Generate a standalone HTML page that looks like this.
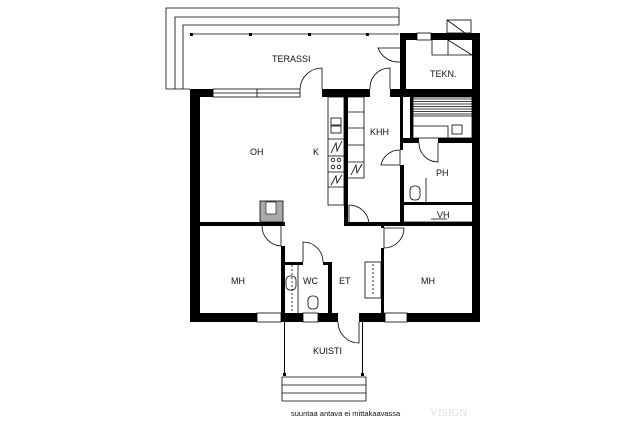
<!DOCTYPE html>
<html><head><meta charset="utf-8"><style>
html,body{margin:0;padding:0;background:#fff;width:640px;height:427px;overflow:hidden}
svg{display:block}
text{font-family:"Liberation Sans",sans-serif;font-size:9px;fill:#111}
</style></head><body>
<svg width="640" height="427" viewBox="0 0 640 427" xmlns="http://www.w3.org/2000/svg">
<g fill="none" stroke="#000" stroke-width="0.8">
<path d="M399 8 H166 V89 M399 17 H175 V89 M399 25 H183 V89 M399 8 V25"/>
<line x1="166" y1="89" x2="190" y2="89"/>
<line x1="190" y1="34" x2="399" y2="34"/>
<rect x="213" y="89" width="87" height="8"/>
<line x1="213" y1="93" x2="300" y2="93"/><line x1="257" y1="89" x2="257" y2="97"/>
<path d="M322 89 V68 A22 22 0 0 0 300 89"/>
<path d="M390 89 V68 A20 20 0 0 0 370 89"/>
<path d="M400 48 H378 A22 22 0 0 0 400 62"/>
<rect x="417" y="33" width="14" height="7"/>
<rect x="447" y="20" width="24" height="13"/><line x1="447" y1="20" x2="465" y2="33"/>
<path d="M432 40 V55 H472 M448 40 V55 M448 40 L472 55"/>
<rect x="413" y="97" width="59" height="41"/>
<path d="M413 99 H472 M413 101.5 H472 M413 104 H472 M413 106.5 H472 M413 109 H472 M413 111.5 H472 M413 114 H472 M413 116 H472 M413 126 H448 V138"/>
<rect x="452" y="125" width="10" height="9"/>
<path d="M348 97 H364 V178 H348 M348 112 H364 M348 128 H364 M348 145 H364 M348 162 H364"/>
<path d="M351 175 L356 165 L357 173 L362 164"/>
<rect x="328" y="97" width="16" height="108"/>
<rect x="331" y="118" width="10" height="7"/><rect x="331" y="126" width="10" height="7"/>
<path d="M328 139 H344 M328 156 H344 M328 172 H344 M328 187 H344"/>
<path d="M331 153 L336 143 L337 151 L342 141"/>
<path d="M331 185 L336 176 L337 183 L342 175"/>
<circle cx="333" cy="160" r="1.8"/><circle cx="339" cy="160" r="1.8"/><circle cx="333" cy="167" r="1.8"/><circle cx="339" cy="167" r="1.8"/>
<path d="M400 150 V165 H381 A19 19 0 0 1 400 150"/>
<path d="M349 205 V224 M349 205 A20 20 0 0 1 369 224"/>
<path d="M419 143 A19 19 0 0 0 438 162 V143"/>
<line x1="426" y1="178" x2="426" y2="203"/>
<rect x="410" y="186" width="10" height="14" rx="4"/>
<path d="M431 219 H447 M400 222 H472"/>
<path d="M262 226 A20 20 0 0 0 281 246 V226"/>
<path d="M303 262 V242 A20 20 0 0 1 323 262"/>
<line x1="298" y1="265" x2="298" y2="313"/>
<line x1="292" y1="265" x2="292" y2="313" stroke-dasharray="2 2"/>
<rect x="286" y="276" width="10" height="14" rx="4"/>
<rect x="308" y="296" width="10" height="13" rx="4"/>
<rect x="365" y="262" width="16" height="36"/><line x1="373" y1="264" x2="373" y2="296" stroke-dasharray="2 2"/>
<path d="M384 228 V248 A20 20 0 0 0 404 228 Z"/>
<rect x="257" y="313" width="24" height="9"/><rect x="303" y="313" width="15" height="9"/><rect x="385" y="313" width="22" height="9"/>
<path d="M359 322 V343 A21 21 0 0 1 338 322"/>
<path d="M284.5 322 V375 M362.5 322 V375" stroke-width="1"/>
<path d="M282 377 H366 M282 385 H366 M282 393 H366 M282 401 H366 M282 377 V401 M366 377 V401"/>
</g>
<g fill="#000">
<rect x="190" y="33" width="3" height="3"/><rect x="249" y="33" width="3" height="3"/><rect x="308" y="33" width="3" height="3"/><rect x="366" y="33" width="3" height="3"/>
<rect x="283" y="373" width="3" height="3"/><rect x="361" y="373" width="3" height="3"/>
</g>
<rect x="260" y="201" width="23" height="21" fill="#aaa" stroke="#000" stroke-width="0.8"/>
<rect x="266" y="202" width="10" height="12" fill="#fff" stroke="#000" stroke-width="0.6"/>
<g fill="#000">
<rect x="190" y="89" width="23" height="8"/>
<rect x="322" y="89" width="48" height="8"/><rect x="390" y="89" width="90" height="8"/>
<rect x="190" y="89" width="10" height="233"/>
<rect x="400" y="33" width="17" height="7"/><rect x="431" y="33" width="49" height="7"/>
<rect x="400" y="33" width="6" height="64"/>
<rect x="472" y="33" width="8" height="289"/>
<rect x="190" y="313" width="67" height="9"/><rect x="281" y="313" width="22" height="9"/>
<rect x="318" y="313" width="20" height="9"/><rect x="359" y="313" width="26" height="9"/><rect x="407" y="313" width="73" height="9"/>
<rect x="200" y="222" width="85" height="4"/>
<rect x="281" y="222" width="4" height="4"/><rect x="281" y="246" width="4" height="67"/>
<rect x="282" y="262" width="21" height="3"/><rect x="323" y="262" width="9" height="3"/>
<rect x="328" y="262" width="4" height="51"/>
<rect x="344" y="97" width="4" height="128"/><rect x="344" y="222" width="60" height="4"/>
<rect x="400" y="97" width="3" height="53"/><rect x="400" y="165" width="4" height="61"/>
<rect x="410" y="97" width="3" height="41"/>
<rect x="400" y="138" width="19" height="5"/><rect x="438" y="138" width="34" height="5"/>
<rect x="403" y="202" width="69" height="3"/>
<rect x="381" y="226" width="3" height="2"/><rect x="381" y="248" width="3" height="65"/>
<rect x="384" y="222" width="88" height="4"/>
</g>
<text x="272" y="62">TERASSI</text>
<text x="430" y="77">TEKN.</text>
<text x="370" y="135">KHH</text>
<text x="250" y="155">OH</text>
<text x="313" y="155">K</text>
<text x="436" y="176">PH</text>
<text x="437" y="218">VH</text>
<text x="231" y="284">MH</text>
<text x="303" y="284">WC</text>
<text x="339" y="284">ET</text>
<text x="421" y="284">MH</text>
<text x="313" y="354">KUISTI</text>
<text x="291" y="416" style="font-size:7.5px">suuntaa antava ei mittakaavassa</text>
<text x="430" y="416" style="font-size:11px;fill:#ddd;font-family:'Liberation Serif',serif">VISIGN</text>
</svg>
</body></html>
